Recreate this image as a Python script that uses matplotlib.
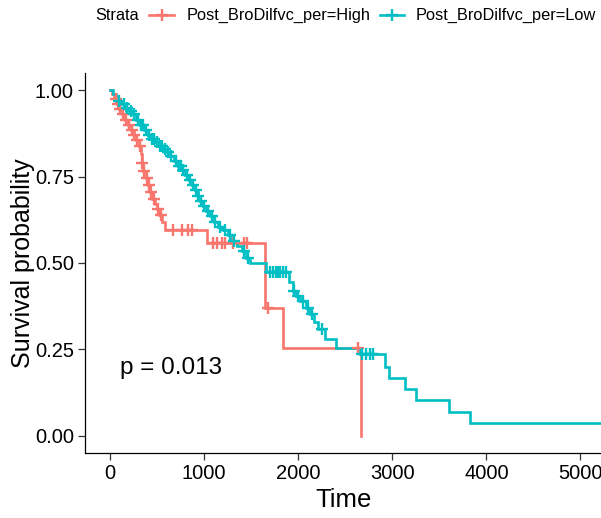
import numpy as np
import matplotlib
matplotlib.use("Agg")
import matplotlib.pyplot as plt
from matplotlib.lines import Line2D

plt.rcParams['font.family'] = ['Liberation Sans', 'DejaVu Sans']

# ---------------- data ----------------
strata_labels = ["Post_BroDilfvc_per=High", "Post_BroDilfvc_per=Low"]
colors = ["#F8766D", "#00BFC4"]

high_times = [0, 20, 40, 70, 100, 130, 160, 190, 220, 250, 280, 310, 330, 340, 355, 380,
              400, 425, 450, 475, 500, 525, 555, 585, 1030, 1647, 1838, 2667]
high_surv = [1.0, 0.99, 0.975, 0.96, 0.945, 0.93, 0.915, 0.90, 0.885, 0.87, 0.855, 0.84,
             0.815, 0.79, 0.765, 0.745, 0.725, 0.705, 0.685, 0.67, 0.655, 0.64, 0.62,
             0.595, 0.557, 0.371, 0.255, 0.0]
high_censor = [60, 85, 110, 140, 170, 200, 230, 260, 290, 315, 345, 365, 390, 415, 440,
               470, 510, 545, 670, 770, 830, 870, 1090, 1140, 1190, 1220, 1310, 1420,
               1460, 1680, 2640]

low_times = [0, 30, 60, 90, 120, 160, 200, 240, 280, 320, 360, 400, 440, 480, 520, 560,
             600, 640, 680, 720, 760, 800, 840, 870, 900, 930, 960, 990, 1020, 1060,
             1100, 1150, 1200, 1250, 1300, 1350, 1400, 1450, 1490, 1660, 1900, 1940,
             1980, 2020, 2080, 2125, 2170, 2210, 2285, 2400, 2660, 2920, 2965, 3135,
             3252, 3603, 3826, 5400]
low_surv = [1.0, 0.99, 0.98, 0.97, 0.96, 0.95, 0.94, 0.93, 0.915, 0.90, 0.885, 0.87,
            0.86, 0.85, 0.84, 0.83, 0.82, 0.81, 0.795, 0.78, 0.77, 0.755, 0.74, 0.725,
            0.71, 0.695, 0.68, 0.665, 0.65, 0.635, 0.62, 0.605, 0.595, 0.58, 0.565,
            0.55, 0.535, 0.515, 0.50, 0.473, 0.445, 0.42, 0.405, 0.39, 0.37, 0.353,
            0.33, 0.31, 0.28, 0.255, 0.238, 0.20, 0.168, 0.136, 0.104, 0.07, 0.037, 0.037]
low_censor = [100, 150, 180, 220, 260, 300, 330, 350, 380, 410, 450, 470, 500, 530, 550,
              580, 620, 650, 700, 730, 750, 780, 820, 850, 880, 910, 940, 970, 1000,
              1040, 1080, 1120, 1170, 1220, 1270, 1320, 1420, 1470, 1700, 1730, 1760,
              1790, 1810, 1840, 1870, 1950, 2000, 2050, 2100, 2150, 2250, 2680, 2720,
              2760, 2800]

p_text = "p = 0.013"
x_ticks = [0, 1000, 2000, 3000, 4000, 5000]
y_ticks = [0.0, 0.25, 0.5, 0.75, 1.0]
y_ticklabels = ["0.00", "0.25", "0.50", "0.75", "1.00"]

# ---------------- figure ----------------
W, H = 601, 518
fig = plt.figure(figsize=(W / 100, H / 100), dpi=100)
ax = fig.add_axes([85 / W, 1 - 453 / H, (W - 85) / W, (453 - 73) / H])

groups = [(high_times, high_surv, high_censor), (low_times, low_surv, low_censor)]
for (t, s, c), col in zip(groups, colors):
    t = np.asarray(t, float)
    s = np.asarray(s, float)
    ax.step(t, s, where="post", color=col, lw=1.9, solid_joinstyle="miter", zorder=3)
    c = np.asarray(c, float)
    idx = np.searchsorted(t, c, side="right") - 1
    ax.plot(c, s[idx], ls="none", marker="+", ms=9, mew=1.7, color=col, zorder=4)

ax.set_xlim(-266, 5218)
ax.set_ylim(-0.05, 1.05)
ax.set_xticks(x_ticks)
ax.set_yticks(y_ticks)
ax.set_yticklabels(y_ticklabels)
for sp in ["top", "right"]:
    ax.spines[sp].set_visible(False)
for sp in ["left", "bottom"]:
    ax.spines[sp].set_linewidth(0.9)
ax.tick_params(axis="both", length=5, width=0.9, labelsize=14.5, colors="#333333",
               labelcolor="black", pad=3)
ax.set_xlabel("Time", fontsize=18.5)
ax.set_ylabel("Survival probability", fontsize=18)
ax.xaxis.set_label_coords((344 - 85) / (W - 85), (453 - 488) / (453 - 73))
ax.yaxis.set_label_coords((35 - 85) / (W - 85), 0.5)

ax.text(650, 0.195, p_text, fontsize=17.5, ha="center", va="center")

# legend (manual, top)
ly = 1 - 15 / H
fig.text(95 / W, ly, "Strata", fontsize=11.8, ha="left", va="center")
for (x0, x1, tx), col, lab in zip([(149, 174, 187), (380, 404, 416)], colors, strata_labels):
    fig.add_artist(Line2D([x0 / W, x1 / W], [ly, ly], color=col, lw=1.9))
    fig.add_artist(Line2D([(x0 + x1) / 2 / W], [ly], marker="+", ms=9, mew=1.7, color=col))
    fig.text(tx / W, ly, lab, fontsize=11.8, ha="left", va="center")

fig.savefig("out.png", dpi=100)
